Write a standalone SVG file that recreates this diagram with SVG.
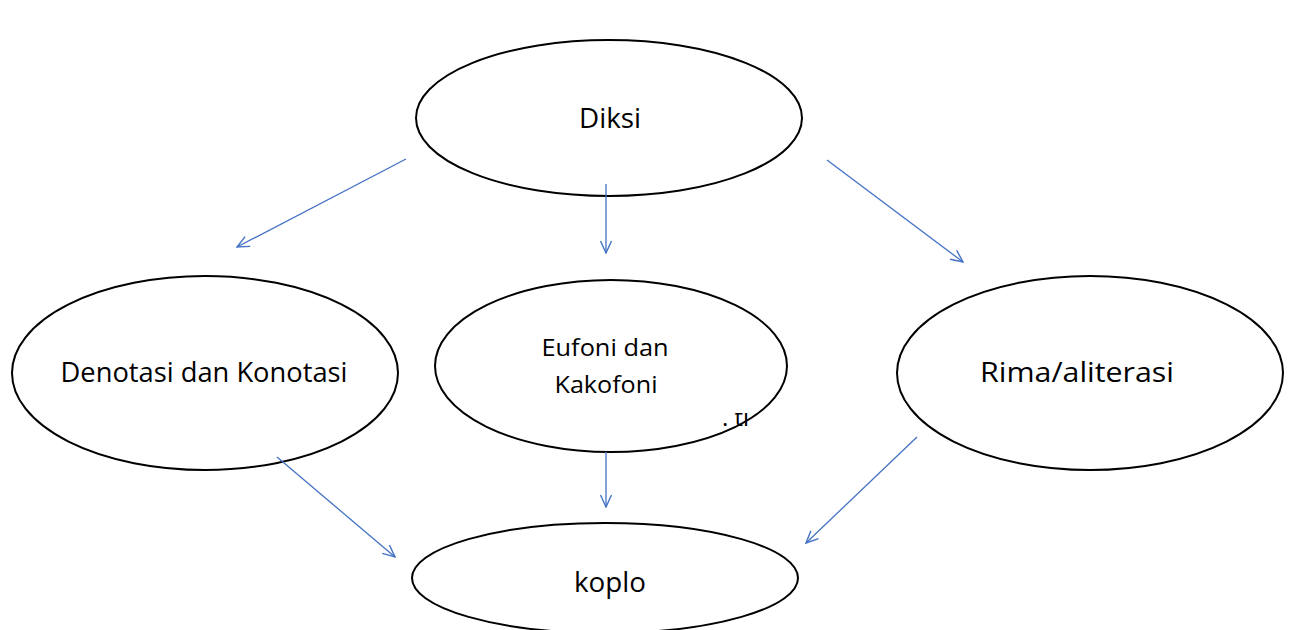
<svg xmlns="http://www.w3.org/2000/svg" width="1290" height="630" viewBox="0 0 1290 630">
<style>
.node{fill:#fff;stroke:#000;stroke-width:2}
.lbl{font-family:"Open Sans","Liberation Sans",sans-serif;fill:#000;text-anchor:middle}
.conn{stroke:#4472C4;stroke-width:1.3;fill:none;marker-end:url(#ah)}
</style>
<defs>
<marker id="ah" viewBox="0 0 14 14" refX="13" refY="7" markerWidth="14" markerHeight="14" markerUnits="userSpaceOnUse" orient="auto">
<polyline points="1,1.5 13,7 1,12.5" fill="none" stroke="#4472C4" stroke-width="1.4"/>
</marker>
<clipPath id="cut"><rect x="718" y="413" width="40" height="13"/></clipPath>
</defs>
<rect width="1290" height="630" fill="#fff"/>
<g id="diksi"><ellipse class="node" cx="609" cy="118" rx="193" ry="78"/><text class="lbl" x="610" y="128" font-size="27" textLength="62" lengthAdjust="spacingAndGlyphs">Diksi</text></g>
<g id="denotasi"><ellipse class="node" cx="205" cy="373" rx="193" ry="97"/><text class="lbl" x="204" y="382" font-size="27" textLength="287" lengthAdjust="spacingAndGlyphs">Denotasi dan Konotasi</text></g>
<g id="eufoni"><ellipse class="node" cx="611" cy="366" rx="176" ry="86"/><text class="lbl" x="605" y="356" font-size="24" textLength="127" lengthAdjust="spacingAndGlyphs">Eufoni dan</text><text class="lbl" x="606" y="393" font-size="24" textLength="103" lengthAdjust="spacingAndGlyphs">Kakofoni</text>
<text x="722" y="426" font-size="24" font-family="Open Sans, sans-serif" clip-path="url(#cut)">. tl</text></g>
<g id="rima"><ellipse class="node" cx="1090" cy="373" rx="193" ry="97"/><text class="lbl" x="1077" y="382" font-size="27" textLength="194" lengthAdjust="spacingAndGlyphs">Rima/aliterasi</text></g>
<g id="koplo"><ellipse class="node" cx="605" cy="578" rx="193" ry="55"/><text class="lbl" x="610" y="592" font-size="28" textLength="72" lengthAdjust="spacingAndGlyphs">koplo</text></g>
<g id="connectors">
<line class="conn" x1="406" y1="159" x2="237" y2="247"/>
<line class="conn" x1="606" y1="184" x2="606" y2="253"/>
<line class="conn" x1="827" y1="160" x2="963" y2="262"/>
<line class="conn" x1="277" y1="457" x2="395" y2="557"/>
<line class="conn" x1="606" y1="452" x2="606" y2="507"/>
<line class="conn" x1="917" y1="437" x2="806" y2="543"/>
</g>
</svg>
